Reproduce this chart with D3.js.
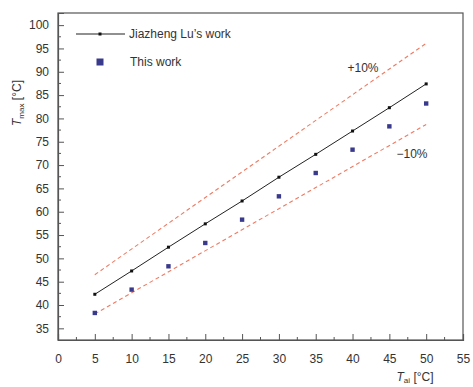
<!DOCTYPE html>
<html>
<head>
<meta charset="utf-8">
<script src="https://cdn.jsdelivr.net/npm/d3@7"></script>
<style>
  body { margin: 0; background: #fff; }
  text { font-family: "Liberation Sans", Arial, sans-serif; fill: #333; }
</style>
</head>
<body>
<div id="chart"></div>
<script>
// chart data
var tAi = [5, 10, 15, 20, 25, 30, 35, 40, 45, 50];
var luWork = [42.3, 47.3, 52.4, 57.4, 62.3, 67.4, 72.3, 77.3, 82.3, 87.4];
var thisWork = [38.3, 43.3, 48.3, 53.3, 58.3, 63.3, 68.3, 73.3, 78.3, 83.2];
var upperBand = [[5, 46.5], [50, 96.1]];
var lowerBand = [[5, 38.1], [50, 78.7]];
var xTicks = [0, 5, 10, 15, 20, 25, 30, 35, 40, 45, 50, 55];
var yTicks = [35, 40, 45, 50, 55, 60, 65, 70, 75, 80, 85, 90, 95, 100];

var svgWidth = 473;
var svgHeight = 387;
var margin = { top: 13, right: 10, bottom: 47, left: 58 };
var width = svgWidth - margin.left - margin.right;
var height = svgHeight - margin.top - margin.bottom;

var svg = d3.select("#chart")
  .append("svg")
  .attr("width", svgWidth)
  .attr("height", svgHeight);

var chartGroup = svg.append("g")
  .attr("transform", `translate(${margin.left}, ${margin.top})`);

var xScale = d3.scaleLinear().domain([0, 55]).range([0, width]);
var yScale = d3.scaleLinear().domain([32.5, 102.6]).range([height, 0]);

// frame
chartGroup.append("rect")
  .attr("width", width)
  .attr("height", height)
  .attr("fill", "none")
  .attr("stroke", "#555")
  .attr("stroke-width", 1.2);

// minor ticks (inward)
var xMinor = d3.range(2.5, 55, 5);
var yMinor = d3.range(37.5, 102, 5);

var bottomAxis = d3.axisBottom(xScale).tickValues(xTicks).tickSize(-6).tickPadding(14);
var leftAxis = d3.axisLeft(yScale).tickValues(yTicks).tickSize(-6).tickPadding(9);

var xg = chartGroup.append("g")
  .attr("transform", `translate(0, ${height})`)
  .call(bottomAxis);
var yg = chartGroup.append("g").call(leftAxis);

[xg, yg].forEach(function(g) {
  g.select(".domain").attr("stroke", "#555").attr("stroke-width", 1.2);
  g.selectAll(".tick line").attr("stroke", "#555");
  g.selectAll(".tick text").attr("font-size", 12).attr("fill", "#333");
});

chartGroup.append("g").selectAll("line")
  .data(xMinor).enter().append("line")
  .attr("x1", d => xScale(d)).attr("x2", d => xScale(d))
  .attr("y1", height).attr("y2", height - 3)
  .attr("stroke", "#555");

chartGroup.append("g").selectAll("line")
  .data(yMinor).enter().append("line")
  .attr("x1", 0).attr("x2", 3)
  .attr("y1", d => yScale(d)).attr("y2", d => yScale(d))
  .attr("stroke", "#555");

// +/-10% dashed bands
var line = d3.line().x(d => xScale(d[0])).y(d => yScale(d[1]));
[upperBand, lowerBand].forEach(function(band) {
  chartGroup.append("path")
    .attr("d", line(band))
    .attr("fill", "none")
    .attr("stroke", "#f07a62")
    .attr("stroke-width", 1.1)
    .attr("stroke-dasharray", "4,3");
});

// Jiazheng Lu's work
var luPoints = tAi.map((t, i) => [t, luWork[i]]);
chartGroup.append("path")
  .attr("d", line(luPoints))
  .attr("fill", "none")
  .attr("stroke", "#222")
  .attr("stroke-width", 1);

chartGroup.selectAll(".luMark")
  .data(luPoints).enter().append("rect")
  .attr("class", "luMark")
  .attr("x", d => xScale(d[0]) - 1.5)
  .attr("y", d => yScale(d[1]) - 1.5)
  .attr("width", 3).attr("height", 3)
  .attr("fill", "#111");

// This work
chartGroup.selectAll(".thisMark")
  .data(tAi.map((t, i) => [t, thisWork[i]])).enter().append("rect")
  .attr("class", "thisMark")
  .attr("x", d => xScale(d[0]) - 2.2)
  .attr("y", d => yScale(d[1]) - 2.2)
  .attr("width", 4.4).attr("height", 4.4)
  .attr("fill", "#3a3a8c");

// band labels
chartGroup.append("text")
  .attr("x", 363 - margin.left).attr("y", 72 - margin.top)
  .attr("text-anchor", "middle").attr("font-size", 12)
  .text("+10%");
chartGroup.append("text")
  .attr("x", 412 - margin.left).attr("y", 158 - margin.top)
  .attr("text-anchor", "middle").attr("font-size", 12)
  .text("\u221210%");

// legend
var legend = chartGroup.append("g");
legend.append("line")
  .attr("x1", 76 - margin.left).attr("x2", 125 - margin.left)
  .attr("y1", 34 - margin.top).attr("y2", 34 - margin.top)
  .attr("stroke", "#222").attr("stroke-width", 1.2);
legend.append("rect")
  .attr("x", 100 - margin.left - 1.5).attr("y", 34 - margin.top - 1.5)
  .attr("width", 3).attr("height", 3).attr("fill", "#111");
legend.append("text")
  .attr("x", 129 - margin.left).attr("y", 38 - margin.top)
  .attr("font-size", 12).text("Jiazheng Lu\u2019s work");
legend.append("rect")
  .attr("x", 100 - margin.left - 3.5).attr("y", 62 - margin.top - 3.5)
  .attr("width", 7).attr("height", 7).attr("fill", "#3a3a8c");
legend.append("text")
  .attr("x", 130 - margin.left).attr("y", 66 - margin.top)
  .attr("font-size", 12).text("This work");

// axis titles
var yTitle = svg.append("text")
  .attr("transform", "translate(21, 103) rotate(-90)")
  .attr("text-anchor", "middle")
  .attr("font-size", 12);
yTitle.append("tspan").attr("font-style", "italic").text("T");
yTitle.append("tspan").attr("font-size", 8).attr("dy", 3).text("max");
yTitle.append("tspan").attr("dy", -3).text(" [\u00b0C]");

var xTitle = svg.append("text")
  .attr("x", 415).attr("y", 381)
  .attr("text-anchor", "middle")
  .attr("font-size", 12);
xTitle.append("tspan").attr("font-style", "italic").text("T");
xTitle.append("tspan").attr("font-size", 8).attr("dy", 2).text("ai");
xTitle.append("tspan").attr("dy", -2).text(" [\u00b0C]");
</script>
</body>
</html>
